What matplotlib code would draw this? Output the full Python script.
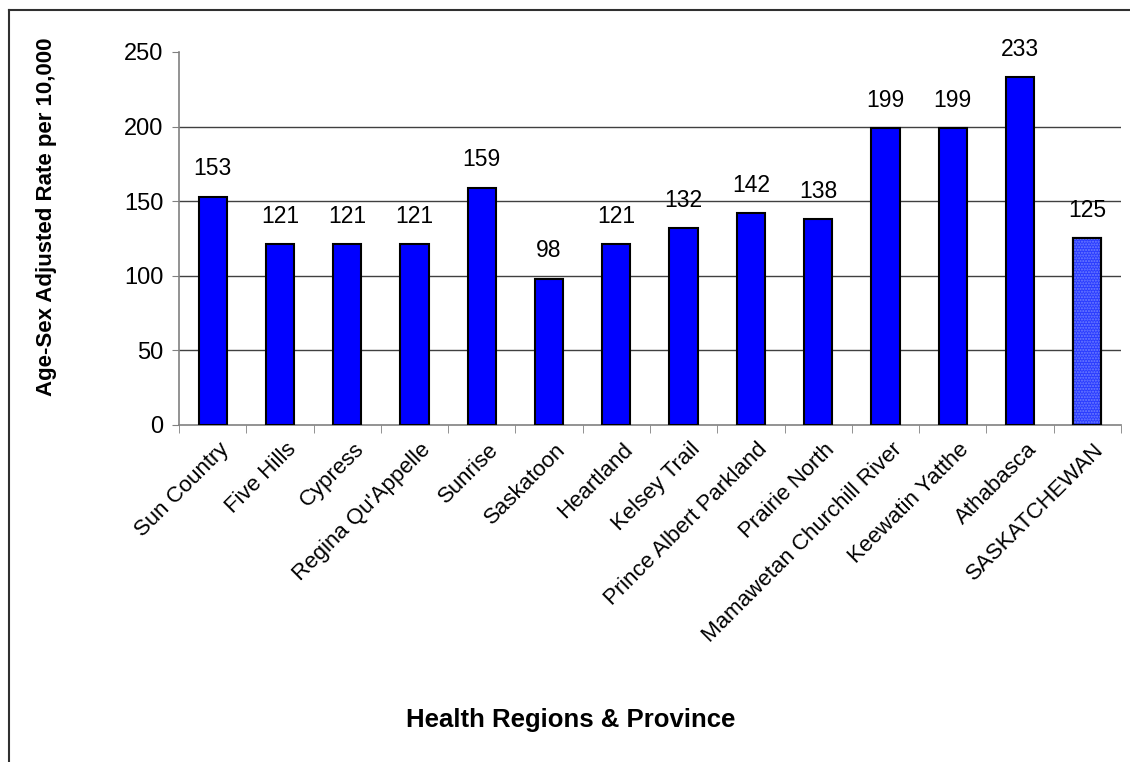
import matplotlib.pyplot as plt
import matplotlib.transforms as mtransforms
import numpy as np
from matplotlib.lines import Line2D

regions = ["Sun Country", "Five Hills", "Cypress", "Regina Qu'Appelle", "Sunrise",
           "Saskatoon", "Heartland", "Kelsey Trail", "Prince Albert Parkland",
           "Prairie North", "Mamawetan Churchill River", "Keewatin Yatthe",
           "Athabasca", "SASKATCHEWAN"]
rates = [153, 121, 121, 121, 159, 98, 121, 132, 142, 138, 199, 199, 233, 125]

plt.rcParams["font.family"] = ["Liberation Sans", "DejaVu Sans"]

fig = plt.figure(figsize=(11.3, 7.62), dpi=100)
ax = fig.add_axes([0.1584, 0.4423, 0.8336, 0.4895])

x = np.arange(len(regions))
colors = ["#0000ff"] * (len(regions) - 1) + ["#2a3cff"]
ax.bar(x, rates, width=0.42, color=colors, edgecolor="black", linewidth=1.5, zorder=3)
# dotted fill for the province total
ax.bar(x[-1], rates[-1], width=0.42, color="none", edgecolor="#7080ff",
       hatch="......", linewidth=0, zorder=4)
ax.bar(x[-1], rates[-1], width=0.42, color="none", edgecolor="black",
       linewidth=1.5, zorder=5)

for xi, v in zip(x, rates):
    ax.text(xi, v + 11, str(v), ha="center", va="bottom", fontsize=16.5)

ax.set_xlim(-0.5, len(regions) - 0.5)
ax.set_ylim(0, 250)
ax.set_yticks([0, 50, 100, 150, 200, 250])
ax.tick_params(axis="y", labelsize=17, length=5, color="#808080", pad=6)
for gy in [50, 100, 150, 200]:
    ax.axhline(gy, color="#404040", linewidth=1, zorder=1)

ax.set_xticks(x)
ax.set_xticklabels(regions, rotation=45, ha="right", rotation_mode="anchor", fontsize=16)
ax.tick_params(axis="x", length=0, pad=10)
shift = mtransforms.ScaledTranslation(6 / 100, 0, fig.dpi_scale_trans)
for lbl in ax.get_xticklabels():
    lbl.set_transform(lbl.get_transform() + shift)
ax.set_xticks(np.arange(-0.5, len(regions)), minor=True)
ax.tick_params(axis="x", which="minor", length=6, color="#808080")

for s in ["top", "right"]:
    ax.spines[s].set_visible(False)
for s in ["left", "bottom"]:
    ax.spines[s].set_color("#808080")
    ax.spines[s].set_linewidth(1.2)

fig.text(0.041, 0.716, "Age-Sex Adjusted Rate per 10,000", rotation=90, ha="center",
         va="center", fontsize=16, fontweight="bold")
fig.text(0.505, 0.055, "Health Regions & Province", ha="center", va="center",
         fontsize=18.5, fontweight="bold")

# outer frame: top and left edges
fig.add_artist(Line2D([0.008, 1.0], [0.987, 0.987], transform=fig.transFigure,
                      color="#303030", linewidth=1.5))
fig.add_artist(Line2D([0.008, 0.008], [0.0, 0.987], transform=fig.transFigure,
                      color="#303030", linewidth=1.5))

fig.savefig("out.png", dpi=100)
